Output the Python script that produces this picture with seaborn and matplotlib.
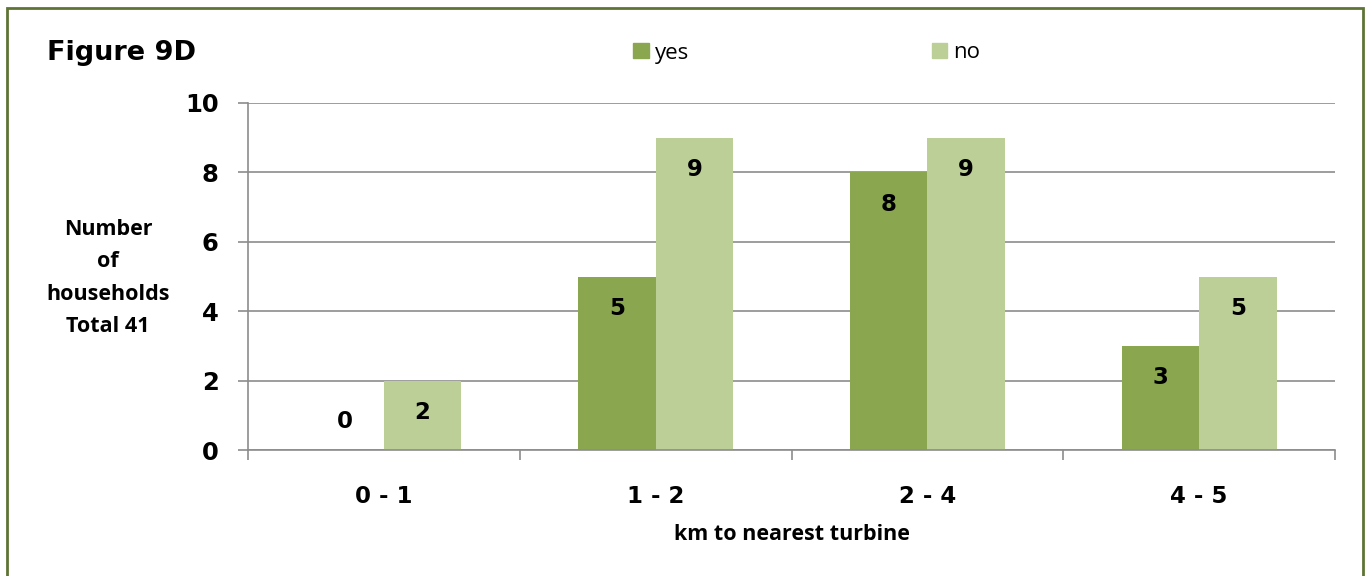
import matplotlib
matplotlib.use("Agg")
import matplotlib.pyplot as plt
import seaborn as sns
import pandas as pd
from matplotlib.patches import Rectangle

categories = ["0 - 1", "1 - 2", "2 - 4", "4 - 5"]
yes_values = [0, 5, 8, 3]
no_values = [2, 9, 9, 5]
series_names = ["yes", "no"]
y_ticks = [0, 2, 4, 6, 8, 10]

df = pd.DataFrame({
    "category": categories * 2,
    "value": yes_values + no_values,
    "answer": ["yes"] * len(categories) + ["no"] * len(categories),
})

sns.set_theme(style="white")
plt.rcParams["font.family"] = ["DejaVu Sans"]
plt.rcParams["text.color"] = "black"

colors = {"yes": "#8aa64e", "no": "#bbcf97"}

fig = plt.figure(figsize=(13.7, 5.76), dpi=100)
ax = fig.add_axes([248 / 1370, 1 - 450 / 576, (1335 - 248) / 1370, (450 - 103) / 576])

sns.barplot(data=df, x="category", y="value", hue="answer", hue_order=series_names,
            order=categories, palette=colors, width=0.57, gap=0, ax=ax,
            saturation=1, legend=False, edgecolor="none", linewidth=0)

ax.set_xlim(-0.5, len(categories) - 0.5)
ax.set_ylim(0, 10)
ax.set_yticks(y_ticks)
ax.yaxis.grid(True, color="#8c8c8c", linewidth=1.2)
ax.set_axisbelow(True)
for side in ["top", "right"]:
    ax.spines[side].set_visible(False)
for side in ["left", "bottom"]:
    ax.spines[side].set_color("#8c8c8c")
    ax.spines[side].set_linewidth(1.2)

ax.tick_params(axis="y", which="major", left=True, length=7.2, width=1.2, color="#8c8c8c",
               direction="out", pad=14, labelsize=17.5, labelcolor="black")
ax.set_xticks(range(len(categories)))
ax.set_xticklabels(categories)
ax.set_xticks([i - 0.5 for i in range(len(categories) + 1)], minor=True)
ax.tick_params(axis="x", which="major", bottom=False, length=0, pad=25, labelsize=16.5,
               labelcolor="black")
ax.tick_params(axis="x", which="minor", bottom=True, length=7.2, width=1.2, color="#8c8c8c",
               direction="out")
for lab in ax.get_xticklabels() + ax.get_yticklabels():
    lab.set_fontweight("bold")
    lab.set_color("black")

ax.set_xlabel("km to nearest turbine", fontsize=15.5, fontweight="bold", color="black",
              family=["Open Sans", "DejaVu Sans"], labelpad=12)
ax.set_ylabel("")

fig.text(108 / 1370, 1 - 278 / 576, "Number\nof\nhouseholds\nTotal 41", ha="center", va="center",
         fontsize=15.5, fontweight="bold", color="black", family=["Open Sans", "DejaVu Sans"],
         linespacing=1.7)

fig.text(47 / 1370, 1 - 53 / 576, "Figure 9D", ha="left", va="center",
         fontsize=19.5, fontweight="heavy", color="black")

# value labels
for container, vals in zip(ax.containers, [yes_values, no_values]):
    for bar, v in zip(container, vals):
        xc = bar.get_x() + bar.get_width() / 2
        off = -32 if v > 0 else 28
        ax.annotate(f"{v}", (xc, v), xytext=(0, off), textcoords="offset pixels",
                    ha="center", va="center", fontsize=16.5, fontweight="bold", color="black")

# legend
handles = [Rectangle((0, 0), 1, 1, color=colors[s]) for s in series_names]
leg = fig.legend(handles, series_names, loc="center", bbox_to_anchor=(807 / 1370, 1 - 53 / 576),
                 ncol=2, frameon=False, handlelength=0.68, handleheight=0.68,
                 handletextpad=0.3, columnspacing=10.9,
                 prop={"family": ["Open Sans", "DejaVu Sans"], "size": 16})
for t in leg.get_texts():
    t.set_color("black")

# outer frame
fig.patches.append(Rectangle((7 / 1370, -0.05), (1363 - 7) / 1370, 1.05 - 8 / 576,
                             transform=fig.transFigure, fill=False, edgecolor="#5e7434",
                             linewidth=2, zorder=10))

fig.savefig("out.png", dpi=100)
